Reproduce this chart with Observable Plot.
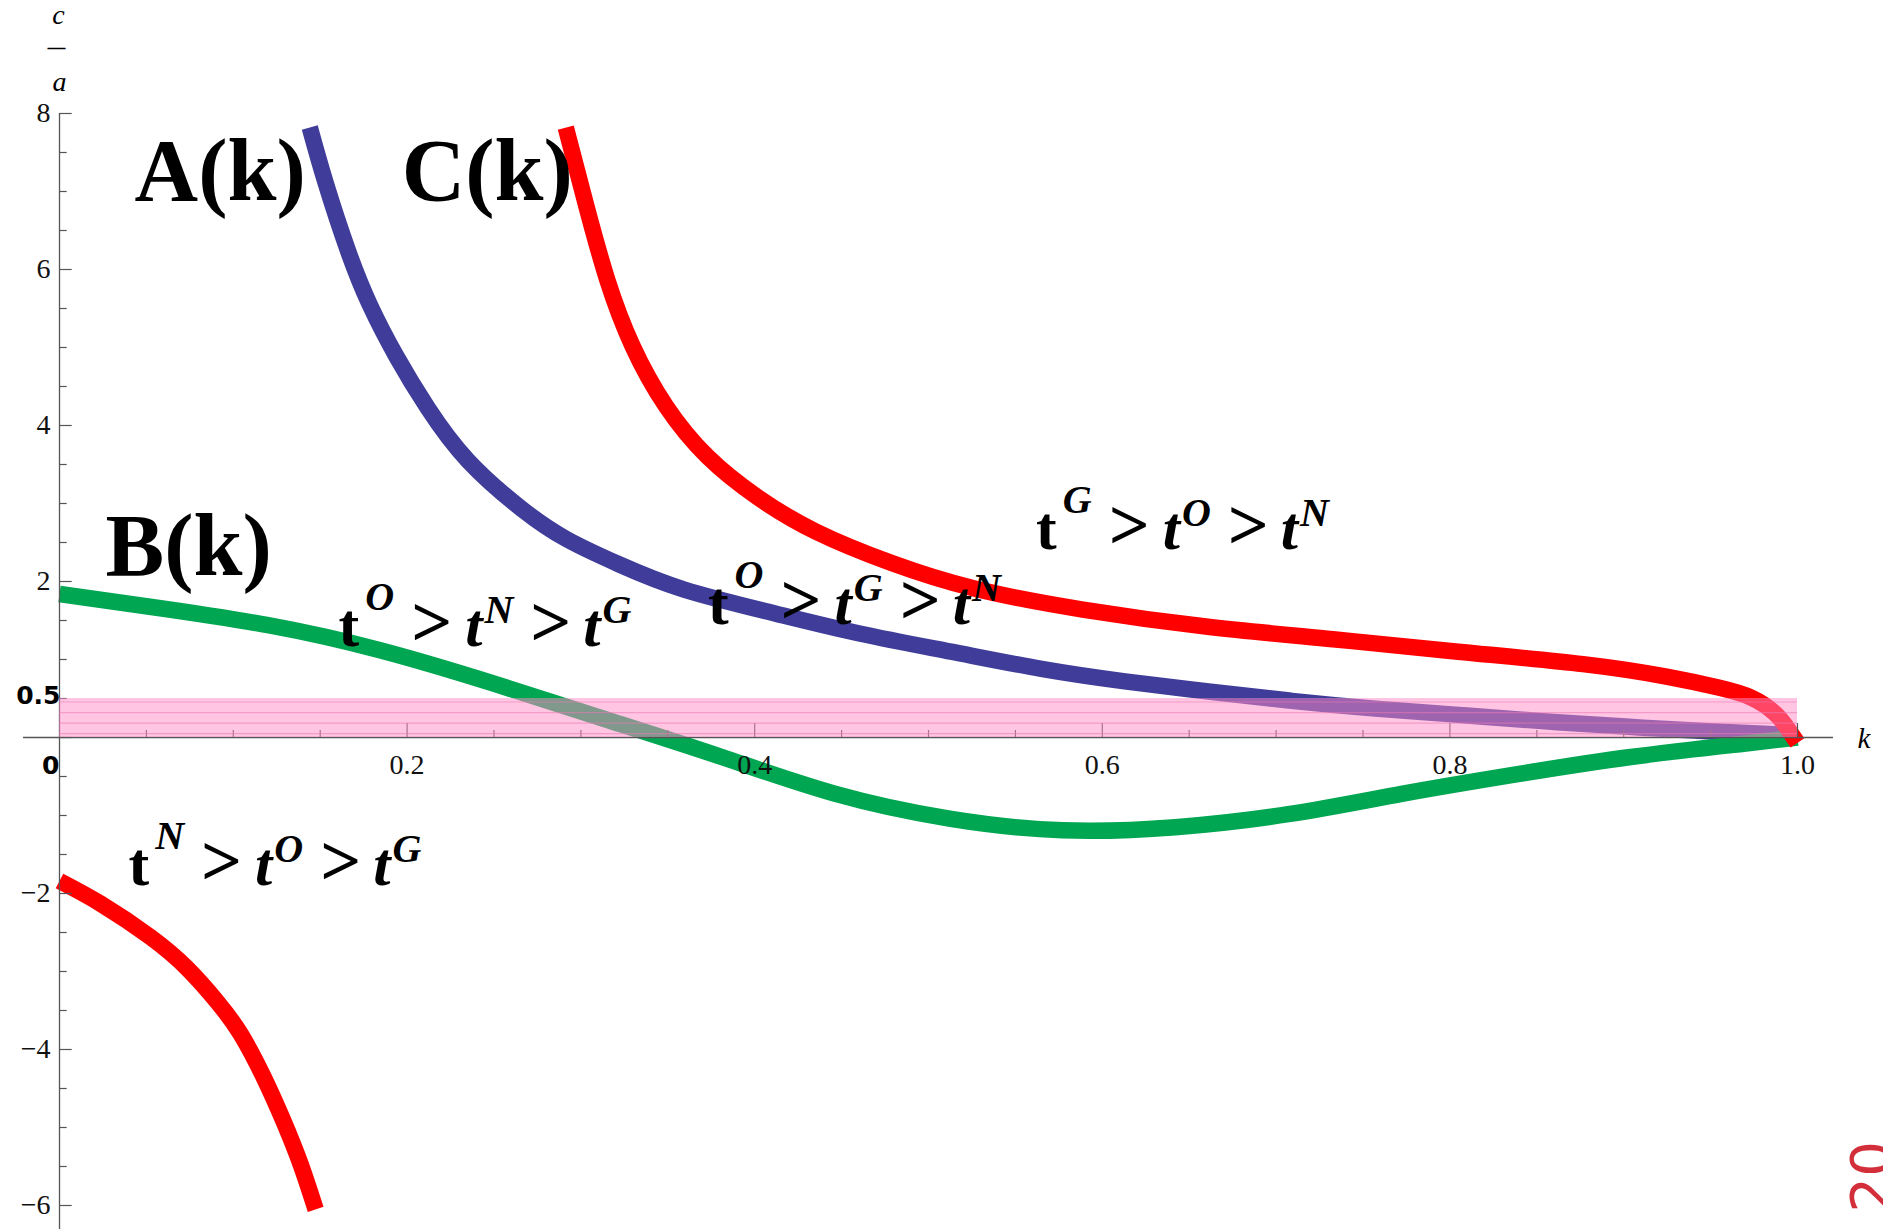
<!DOCTYPE html>
<html>
<head>
<meta charset="utf-8">
<script src="https://cdn.jsdelivr.net/npm/d3@7"></script>
<script src="https://cdn.jsdelivr.net/npm/@observablehq/plot@0.6"></script>
<style>
  html, body { margin: 0; padding: 0; background: #fff; }
  svg { display: block; }
</style>
</head>
<body>
<div id="chart"></div>
<script>
// Boundary curves c/a as functions of k.
const aK = [0.144, 0.153, 0.166, 0.1785, 0.194, 0.212, 0.235, 0.266, 0.292, 0.322, 0.359, 0.41, 0.461, 0.513, 0.565, 0.613, 0.661, 0.709, 0.757, 0.805, 0.853, 0.901, 0.949, 1.0];
const aV = [7.82, 7.12, 6.24, 5.55, 4.88, 4.22, 3.55, 2.93, 2.54, 2.22, 1.90, 1.60, 1.33, 1.10, 0.88, 0.72, 0.59, 0.47, 0.37, 0.29, 0.21, 0.14, 0.08, 0.03];

const bK = [0, 0.054, 0.12, 0.185, 0.25, 0.316, 0.381, 0.446, 0.512, 0.577, 0.642, 0.708, 0.773, 0.839, 0.904, 0.969, 1.0];
const bV = [1.84, 1.67, 1.44, 1.115, 0.69, 0.22, -0.25, -0.72, -1.04, -1.19, -1.15, -0.98, -0.72, -0.47, -0.25, -0.08, 0.0];

// C(k) has two branches
const cUpperK = [0.2913, 0.3033, 0.3153, 0.3297, 0.3489, 0.3729, 0.4017, 0.4352, 0.4784, 0.5264, 0.5888, 0.6607, 0.7327, 0.8047, 0.8766, 0.9246, 0.9545, 0.9735, 0.987, 0.9948, 1.0];
const cUpperV = [7.82, 6.80, 5.86, 5.02, 4.25, 3.60, 3.08, 2.64, 2.24, 1.91, 1.64, 1.42, 1.26, 1.10, 0.94, 0.78, 0.64, 0.51, 0.31, 0.10, -0.07];
const cLowerK = [0, 0.0236, 0.0524, 0.0735, 0.0908, 0.1042, 0.1176, 0.1291, 0.1387, 0.1474];
const cLowerV = [-1.84, -2.13, -2.56, -2.96, -3.39, -3.80, -4.36, -4.93, -5.47, -6.05];

// Axes
const xMajorTicks = [0.2, 0.4, 0.6, 0.8, 1.0];
const xMinorTicks = d3.range(1, 20).map(i => i / 20).filter(t => Math.round(t * 20) % 4 !== 0);
const yMajorTicks = [-6, -4, -2, 0, 2, 4, 6, 8];
const yTickLabels = [-6, -4, -2, 2, 4, 6, 8];
const yMinorTicks = d3.range(-12, 17).map(i => i / 2).filter(t => t % 2 !== 0);

// Highlighted strip 0 < c/a < 0.5
const bandK = [0, 1];
const bandV = [0, 0.5];
const bandHatch = [0.05, 0.185, 0.32, 0.455];

// Curve names
const curveNames = ["A(k)", "C(k)", "B(k)"];
const curveNameK = [0.0432, 0.1969, 0.0265];
const curveNameV = [6.885, 6.885, 2.077];

// Orderings of t^G, t^O, t^N in each region
const orderSups = [["G", "O", "N"], ["O", "G", "N"], ["O", "N", "G"], ["N", "O", "G"]];
const orderK = [0.5619, 0.3731, 0.1606, 0.0397];
const orderV = [2.423, 1.449, 1.167, -1.897];

const rows = (ks, vs) => ks.map((k, i) => ({k, v: vs[i]}));
const serif = "'Liberation Serif', 'Times New Roman', serif";
const lineStyle = {x: "k", y: "v", strokeWidth: 16.5, curve: "natural", strokeLinecap: "butt", strokeLinejoin: "round"};
const axisGrey = "#555";
const orderText = d => `t${d[0]} > t${d[1]} > t${d[2]}`;

const chart = Plot.plot({
  width: 1883,
  height: 1229,
  marginLeft: 59,
  marginRight: 86,
  marginTop: 113,
  marginBottom: 492,
  x: {domain: [0, 1], range: [59, 1797]},
  y: {domain: [-6.3, 8], range: [1228.4, 113]},
  style: {background: "#fff", fontFamily: serif, color: "#000"},
  marks: [
    Plot.line(rows(aK, aV), {...lineStyle, stroke: "#3f3d99"}),
    Plot.line(rows(bK, bV), {...lineStyle, stroke: "#00a651"}),
    Plot.line(rows(cLowerK, cLowerV), {...lineStyle, stroke: "#ff0000"}),
    Plot.line(rows(cUpperK, cUpperV), {...lineStyle, stroke: "#ff0000"}),

    // axis lines through the origin
    Plot.ruleY([0], {x1: -0.0207, x2: 1.0207, stroke: axisGrey, strokeWidth: 1.3}),
    Plot.ruleX([0], {y1: -6.35, y2: 8, stroke: axisGrey, strokeWidth: 1.3}),

    // inward ticks
    Plot.axisX({ticks: xMajorTicks, tickSize: 14, dy: -14, fill: "none", stroke: axisGrey, strokeWidth: 1.2}),
    Plot.axisX({ticks: xMinorTicks, tickSize: 7, dy: -7, fill: "none", stroke: axisGrey, strokeWidth: 1.2}),
    Plot.axisY({ticks: yMajorTicks, tickSize: 12.7, dx: 12.7, fill: "none", stroke: axisGrey, strokeWidth: 1.2}),
    Plot.axisY({ticks: yMinorTicks, tickSize: 7.7, dx: 7.7, fill: "none", stroke: axisGrey, strokeWidth: 1.2}),

    // tick labels
    Plot.axisX({ticks: xMajorTicks, tickSize: 0, tickPadding: 17, tickFormat: ".1f", fontSize: 28, label: null, fill: "#111"}),
    Plot.axisY({ticks: yTickLabels, tickSize: 0, tickPadding: 9, fontSize: 28, label: null, fill: "#111"}),

    // highlighted strip
    Plot.rect([{k0: bandK[0], k1: bandK[1], v0: bandV[0], v1: bandV[1]}], {x1: "k0", x2: "k1", y1: "v0", y2: "v1", fill: "rgb(255,140,200)", fillOpacity: 0.5}),
    Plot.ruleY(bandHatch, {x1: bandK[0], x2: bandK[1], stroke: "rgb(235,120,180)", strokeOpacity: 0.55, strokeWidth: 1.2}),
    Plot.text([bandV[1]], {x: 0, y: d => d, text: d => d3.format(".1f")(d), textAnchor: "end", lineAnchor: "middle", dx: 1, dy: -3, fontFamily: "'DejaVu Sans', Verdana, sans-serif", fontWeight: "bold", fontSize: 25, letterSpacing: 1}),
    Plot.text([0], {x: 0, y: d => d, text: d => String(d), textAnchor: "end", lineAnchor: "middle", dx: 0, dy: 28, fontFamily: "'DejaVu Sans', Verdana, sans-serif", fontWeight: "bold", fontSize: 25}),

    // axis titles
    Plot.text(["c"], {frameAnchor: "top-left", dx: -1, dy: -90, textAnchor: "middle", lineAnchor: "bottom", fontStyle: "italic", fontSize: 28}),
    Plot.text(["\u2014"], {frameAnchor: "top-left", dx: -3, dy: -62, textAnchor: "middle", lineAnchor: "bottom", fontSize: 17, stroke: "#000", strokeWidth: 0.9}),
    Plot.text(["a"], {frameAnchor: "top-left", dx: 0, dy: -23, textAnchor: "middle", lineAnchor: "bottom", fontStyle: "italic", fontSize: 28}),
    Plot.text(["k"], {frameAnchor: "bottom-right", dx: 60, dy: 10, textAnchor: "start", lineAnchor: "bottom", fontStyle: "italic", fontSize: 29}),

    // curve names
    Plot.text(curveNames, {x: (d, i) => curveNameK[i], y: (d, i) => curveNameV[i], text: d => d, textAnchor: "start", lineAnchor: "bottom", fontWeight: "bold", fontSize: 88}),

    // region orderings (superscripts set below)
    Plot.text(orderSups, {x: (d, i) => orderK[i], y: (d, i) => orderV[i], text: orderText, textAnchor: "start", lineAnchor: "bottom", fontWeight: "bold", fontSize: 62}),

    // page mark at the lower right edge
    Plot.text(["20"], {frameAnchor: "bottom-right", dx: 92, dy: 475, rotate: -90, textAnchor: "start", lineAnchor: "bottom", fontFamily: "'DejaVu Sans', sans-serif", fontSize: 56, fill: "#d32f3a"})
  ]
});

// Superscripted orderings: t^X > t^Y > t^Z
const NS = "http://www.w3.org/2000/svg";
function span(parent, txt, attrs) {
  const t = document.createElementNS(NS, "tspan");
  for (const [key, val] of Object.entries(attrs)) t.setAttribute(key, val);
  t.textContent = txt;
  parent.appendChild(t);
}
const orderStrings = orderSups.map(orderText);
chart.querySelectorAll("text").forEach(node => {
  const i = orderStrings.indexOf(node.textContent);
  if (i < 0) return;
  const [s1, s2, s3] = orderSups[i];
  node.textContent = "";
  const sup = {"font-size": 40, "font-style": "italic", "font-weight": "bold"};
  const gt = {"font-size": 72, "font-style": "normal", "font-weight": "bold"};
  const ti = {"font-size": 62, "font-style": "italic", "font-weight": "bold"};
  span(node, "t", {"font-size": 62, "font-style": "normal", "font-weight": "bold"});
  span(node, s1, {...sup, dx: 6, dy: -36});
  span(node, ">", {...gt, dx: 17, dy: 36});
  span(node, "t", {...ti, dx: 13});
  span(node, s2, {...sup, dx: 2, dy: -23});
  span(node, ">", {...gt, dx: 17, dy: 23});
  span(node, "t", {...ti, dx: 12});
  span(node, s3, {...sup, dx: 2, dy: -23});
});

document.getElementById("chart").appendChild(chart);
</script>
</body>
</html>
